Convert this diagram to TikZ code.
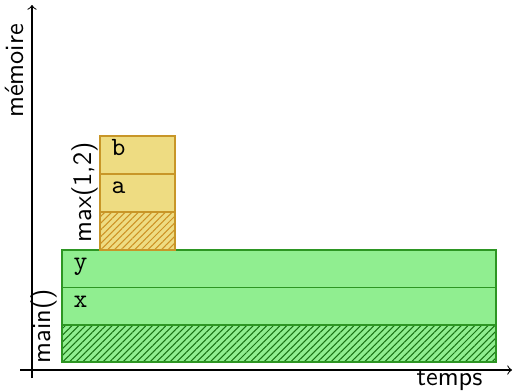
\documentclass[tikz,border=0pt]{standalone}
\usetikzlibrary{patterns.meta}
\definecolor{mainfill}{RGB}{144,238,144}
\definecolor{mainline}{RGB}{45,150,35}
\definecolor{mainhatch}{RGB}{25,115,20}
\definecolor{maxfill}{RGB}{238,220,130}
\definecolor{maxline}{RGB}{200,150,40}
\definecolor{maxhatch}{RGB}{205,145,35}
\begin{document}
\begin{tikzpicture}[x=0.3794pt,y=-0.3794pt,font=\sffamily,
  axis/.style={->,line width=0.4pt},
  mainhatchbox/.style={pattern={Lines[angle=45,distance=1.8pt,line width=0.4pt]},pattern color=mainhatch},
  maxhatchbox/.style={pattern={Lines[angle=45,distance=1.8pt,line width=0.4pt]},pattern color=maxhatch},
  mainedge/.style={draw=mainline,line width=0.45pt},
  maxedge/.style={draw=maxline,line width=0.45pt},
  var/.style={font=\ttfamily,inner sep=0pt,anchor=base west},
  framelabel/.style={rotate=90,anchor=south,inner sep=0pt}]
\useasboundingbox (0,0) rectangle (514,391);

% axes
\coordinate (ybot) at (32,378);
\coordinate (ytop) at (32,5);
\coordinate (xleft) at (20,370);
\coordinate (xright) at (512,370);
\draw[axis] (ybot) -- (ytop);
\draw[axis] (xleft) -- (xright);
\node[framelabel] (mem) at (24,71) {mémoire};
\node[inner sep=0pt,anchor=base] (temps) at (449.5,385) {temps};

% frame of main()
\fill[mainfill] (62,250) rectangle (496,362);
\path[mainhatchbox] (62,325) rectangle (496,362);
\path[mainedge] (62,250) rectangle (496,362);
\path[mainedge] (62,287.5) -- (496,287.5);
\path[mainedge] (62,325) -- (496,325);
\node[var] (vy) at (73,269.5) {y};
\node[var] (vx) at (73,307) {x};
\node[framelabel] (mainlbl) at (57.5,326) {main()};

% frame of max(1,2)
\fill[maxfill] (100,136) rectangle (175,250);
\path[maxhatchbox] (100,212) rectangle (175,250);
\path[maxedge] (100,136) rectangle (175,250);
\path[maxedge] (100,174) -- (175,174);
\path[maxedge] (100,212) -- (175,212);
\node[var] (vb) at (111,155) {b};
\node[var] (va) at (111,193) {a};
\node[framelabel] (maxlbl) at (98.5,192.5) {max(1,2)};
\end{tikzpicture}
\end{document}
